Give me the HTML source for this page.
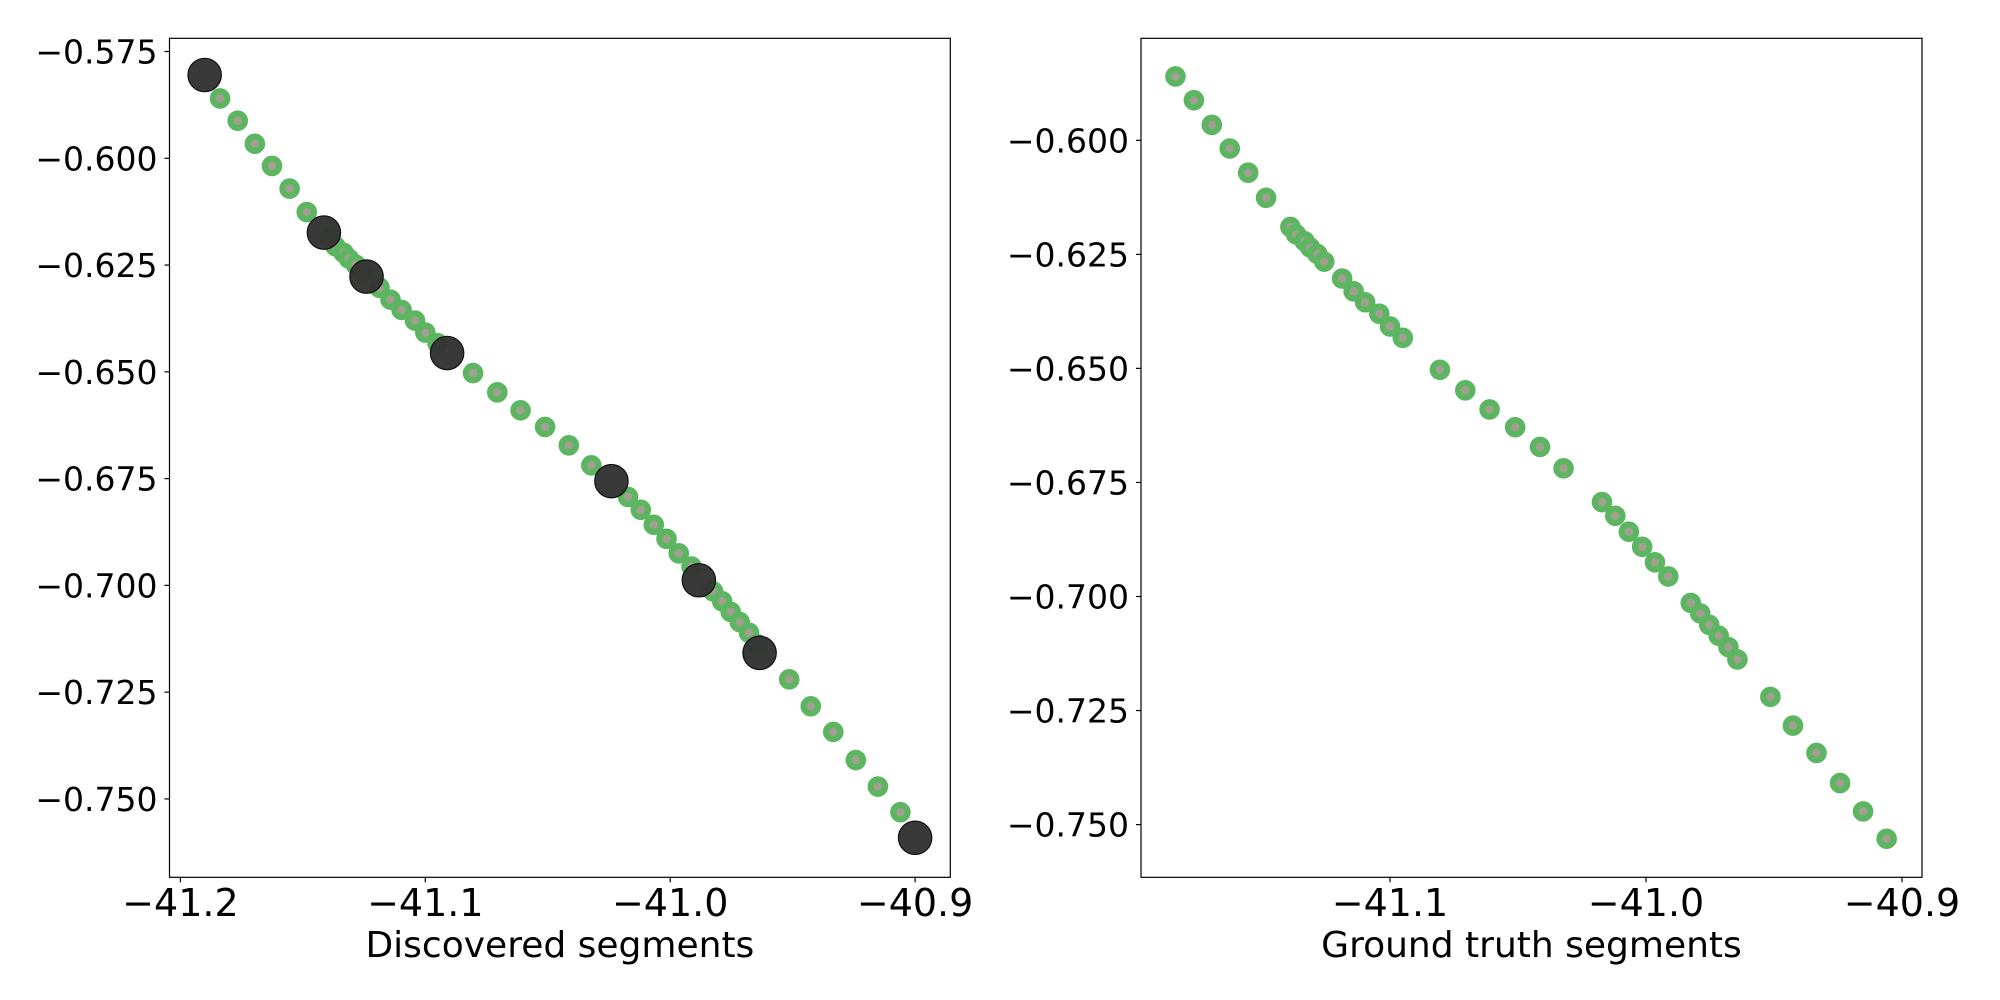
<!DOCTYPE html>
<html><head><meta charset="utf-8"><style>
html,body{margin:0;padding:0;background:#fff;}
svg{display:block;font-family:"DejaVu Sans","Liberation Sans",sans-serif;}
</style></head><body>
<svg id="fig" width="2000" height="1000" viewBox="0 0 2000 1000"></svg>
<script>
const gtX=[-41.1838,-41.1766,-41.1696,-41.1626,-41.1554,-41.1484,-41.1389,-41.1367,-41.1334,-41.1312,-41.1284,-41.1257,-41.1187,-41.1142,-41.1097,-41.1042,-41.1000,-41.0950,-41.0805,-41.0706,-41.0611,-41.0511,-41.0414,-41.0322,-41.0172,-41.0120,-41.0067,-41.0015,-40.9965,-40.9913,-40.9825,-40.9788,-40.9753,-40.9716,-40.9678,-40.9643,-40.9514,-40.9426,-40.9334,-40.9242,-40.9152,-40.9060];
const gtY=[-0.5860,-0.5912,-0.5966,-0.6018,-0.6071,-0.6126,-0.6190,-0.6206,-0.6221,-0.6235,-0.6249,-0.6266,-0.6303,-0.6331,-0.6355,-0.6380,-0.6408,-0.6433,-0.6503,-0.6548,-0.6590,-0.6629,-0.6672,-0.6719,-0.6793,-0.6823,-0.6858,-0.6891,-0.6925,-0.6956,-0.7014,-0.7037,-0.7062,-0.7086,-0.7111,-0.7138,-0.7220,-0.7283,-0.7343,-0.7409,-0.7471,-0.7531];
const segX=[-41.1901,-41.1414,-41.1240,-41.0911,-41.0240,-40.9883,-40.9635,-40.9000];
const segY=[-0.5805,-0.6174,-0.6277,-0.6456,-0.6756,-0.6988,-0.7158,-0.7591];
const leftXTicks=[-41.2,-41.1,-41.0,-40.9];
const leftXTickLabels=["−41.2","−41.1","−41.0","−40.9"];
const leftYTicks=[-0.575,-0.6,-0.625,-0.65,-0.675,-0.7,-0.725,-0.75];
const leftYTickLabels=["−0.575","−0.600","−0.625","−0.650","−0.675","−0.700","−0.725","−0.750"];
const rightXTicks=[-41.1,-41.0,-40.9];
const rightXTickLabels=["−41.1","−41.0","−40.9"];
const rightYTicks=[-0.6,-0.625,-0.65,-0.675,-0.7,-0.725,-0.75];
const rightYTickLabels=["−0.600","−0.625","−0.650","−0.675","−0.700","−0.725","−0.750"];

const NS="http://www.w3.org/2000/svg";
const svg=document.getElementById('fig');
function mk(tag,attrs,parent){const e=document.createElementNS(NS,tag);for(const k in attrs)e.setAttribute(k,attrs[k]);(parent||svg).appendChild(e);return e;}

function panel(cfg){
  const g=mk('g',{});
  
  
  const sx=v=>cfg.x0px+(v-cfg.x0)*cfg.kx;
  const sy=v=>cfg.y0px+(cfg.y0-v)*cfg.ky;
  const frame=mk('rect',{x:cfg.L,y:cfg.T,width:cfg.R-cfg.L,height:cfg.B-cfg.T,fill:'none',stroke:'#000','stroke-width':1.2},g);
  
  
  const clipId='c'+cfg.name;
  const cp=mk('clipPath',{id:clipId},g);
  mk('rect',{x:cfg.L,y:cfg.T,width:cfg.R-cfg.L,height:cfg.B-cfg.T},cp);
  const pts=mk('g',{'clip-path':'url(#'+clipId+')'},g);
  gtX.forEach((x,i)=>{
    const c=mk('circle',{cx:sx(x),cy:sy(gtY[i]),r:7.3,fill:'#a0a08e',stroke:'#5cb560','stroke-width':6},pts);
    
    
  });
  if(cfg.black){
    segX.forEach((x,i)=>{
      const c=mk('circle',{cx:sx(x),cy:sy(segY[i]),r:16.7,fill:'#333333','fill-opacity':0.97,stroke:'#111','stroke-width':1.2},pts);
      
      
    });
  }
  cfg.xt.forEach((v,i)=>{
    const x=sx(v);
    mk('line',{x1:x,x2:x,y1:cfg.B,y2:cfg.B+5,stroke:'#000','stroke-width':1.2},g);
    const t=mk('text',{x:x,y:916,'text-anchor':'middle','font-size':38,fill:'#000'},g);
    t.textContent=cfg.xl[i];
    
    
  });
  cfg.yt.forEach((v,i)=>{
    const y=sy(v);
    mk('line',{x1:cfg.L-5,x2:cfg.L,y1:y,y2:y,stroke:'#000','stroke-width':1.2},g);
    const t=mk('text',{x:cfg.L-12,y:y+12,'text-anchor':'end','font-size':33,fill:'#000'},g);
    t.textContent=cfg.yl[i];
    
    
  });
  const xl=mk('text',{x:(cfg.L+cfg.R)/2,y:957,'text-anchor':'middle','font-size':36,fill:'#000'},g);
  xl.textContent=cfg.title;
  
  
}
panel({name:'discovered-segments-panel',L:169.5,R:950.3,T:38.3,B:877.3,x0:-41.2,x0px:180.4,kx:2449,y0:-0.575,y0px:51.5,ky:4271,
  xt:leftXTicks,xl:leftXTickLabels,yt:leftYTicks,yl:leftYTickLabels,title:'Discovered segments',black:true});
panel({name:'ground-truth-segments-panel',L:1141,R:1922,T:38.3,B:877.3,x0:-41.0,x0px:1646,kx:2560,y0:-0.6,y0px:140.3,ky:4562,
  xt:rightXTicks,xl:rightXTickLabels,yt:rightYTicks,yl:rightYTickLabels,title:'Ground truth segments',black:false});
</script>
</body></html>
